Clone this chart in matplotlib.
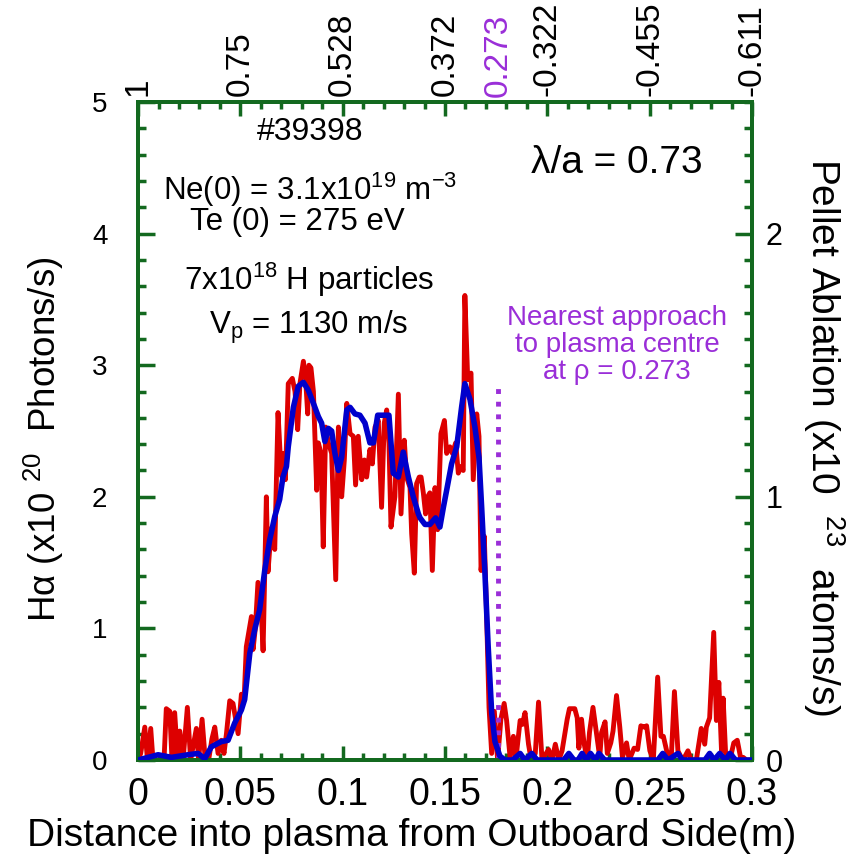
import matplotlib
matplotlib.use('Agg')
import matplotlib.pyplot as plt
from matplotlib.ticker import MultipleLocator

plt.rcParams['font.family'] = ['Liberation Sans', 'DejaVu Sans']
plt.rcParams['mathtext.fontset'] = 'custom'
plt.rcParams['mathtext.rm'] = 'Liberation Sans'
plt.rcParams['mathtext.it'] = 'Liberation Sans'
plt.rcParams['mathtext.default'] = 'regular'

# H-alpha signal (x1e20 photons/s) vs distance (m)
red_x = [0.0, 0.0013, 0.0033, 0.0046, 0.0062, 0.0073, 0.0098, 0.0127, 0.0138, 0.0155,
         0.0166, 0.0179, 0.0192, 0.0204, 0.022, 0.0241, 0.0257, 0.0285, 0.0296, 0.0313,
         0.0326, 0.0345, 0.0361, 0.0375, 0.0391, 0.0407, 0.042, 0.0432, 0.0448, 0.0464,
         0.0489, 0.0505, 0.0518, 0.0529, 0.0554, 0.0562, 0.0573, 0.0586, 0.0603, 0.0611,
         0.0627, 0.0635, 0.0651, 0.0668, 0.0684, 0.070, 0.0708, 0.0720,
         0.0734, 0.0754, 0.0767, 0.0780, 0.0791, 0.0808, 0.0819, 0.0829, 0.0835, 0.0845,
         0.0857, 0.0873, 0.0881, 0.0894, 0.0905, 0.0917, 0.0930, 0.0946, 0.0966, 0.0979,
         0.0995, 0.1008, 0.1020, 0.1036, 0.1052, 0.1063, 0.1076, 0.1093, 0.1106, 0.1117,
         0.1133, 0.1145, 0.1158, 0.1174, 0.1190, 0.1203, 0.1215, 0.1226, 0.1236, 0.1255,
         0.1272, 0.1285, 0.1301, 0.1312, 0.1329, 0.1337, 0.1350, 0.1361, 0.1374,
         0.1383, 0.1394, 0.1405, 0.1415, 0.1426, 0.1438, 0.1451, 0.1464, 0.1480, 0.1497,
         0.1508, 0.1524, 0.1536, 0.1552, 0.1565, 0.1578, 0.1589, 0.1597, 0.1611, 0.1627,
         0.1638, 0.1655, 0.1666, 0.1676, 0.1692, 0.1703, 0.1715, 0.1728, 0.1741, 0.1757,
         0.1773, 0.1789, 0.1801, 0.1818, 0.1834, 0.1846, 0.1867, 0.1878, 0.1891, 0.1908,
         0.1921, 0.1941, 0.1957, 0.1974, 0.2006, 0.2023, 0.2039, 0.2056, 0.2072, 0.2097,
         0.2108, 0.2134, 0.2146, 0.2154, 0.2167, 0.2179, 0.2195, 0.2206, 0.2223, 0.2236,
         0.2256, 0.2265, 0.2282, 0.2293, 0.2310, 0.2321, 0.2338, 0.2354, 0.2367, 0.2387,
         0.2400, 0.2424, 0.2441, 0.2457, 0.2474, 0.2485, 0.2501, 0.2518, 0.2539, 0.2555,
         0.2567, 0.2583, 0.2605, 0.2621, 0.2638, 0.2654, 0.2670, 0.2687, 0.2703, 0.2728,
         0.2752, 0.2769, 0.2777, 0.2793, 0.2813, 0.2826, 0.2838, 0.2851, 0.2859, 0.2872,
         0.2892, 0.2911, 0.2928, 0.2944, 0.2957, 0.2973, 0.3]
red_y = [0.0, 0.05, 0.25, 0.0, 0.24, 0.0, 0.0, 0.0, 0.39, 0.37,
         0.0, 0.36, 0.05, 0.22, 0.0, 0.40, 0.0, 0.24, 0.0, 0.31,
         0.05, 0.0, 0.16, 0.25, 0.05, 0.15, 0.05, 0.2, 0.45, 0.43,
         0.2, 0.5, 0.45, 0.86, 1.09, 0.84, 1.0, 1.35, 1.1, 0.83,
         2.0, 1.43, 1.76, 1.6, 2.64, 2.16, 2.33, 2.13,
         2.86, 2.9, 2.8, 2.51, 2.86, 3.03, 2.89, 2.63, 3.0, 2.98,
         2.8, 2.05, 2.41, 2.33, 1.62, 2.53, 2.41, 2.33, 1.37, 2.53,
         2.0, 2.28, 2.71, 2.48, 2.46, 2.09, 2.46, 2.13, 2.28, 2.15,
         2.36, 2.25, 2.53, 2.58, 1.92, 2.56, 2.66, 2.41, 1.77, 2.0,
         2.78, 1.87, 2.43, 2.15, 2.07, 1.72, 1.42, 2.1, 2.15,
         2.15, 2.03, 1.87, 2.0, 2.03, 1.44, 2.07, 1.75, 2.48, 2.58,
         2.33, 2.38, 2.33, 2.41, 2.18, 2.23, 2.2, 3.53, 2.89, 2.94,
         2.13, 2.63, 2.46, 1.44, 1.7, 1.11, 0.40, 0.05, 0.37, 0.0,
         0.31, 0.43, 0.3, 0.02, 0.18, 0.0, 0.3, 0.27, 0.36, 0.12,
         0.0, 0.05, 0.44, 0.0, 0.08, 0.0, 0.12, 0.0, 0.07, 0.31,
         0.39, 0.39, 0.32, 0.09, 0.31, 0.13, 0.0, 0.21, 0.4, 0.25,
         0.02, 0.21, 0.29, 0.05, 0.13, 0.22, 0.49, 0.25, 0.02, 0.13,
         0.0, 0.09, 0.08, 0.26, 0.25, 0.26, 0.07, 0.0, 0.63, 0.18,
         0.18, 0.07, 0.0, 0.52, 0.07, 0.02, 0.02, 0.07, 0.0, 0.0,
         0.24, 0.12, 0.25, 0.32, 0.97, 0.30, 0.59, 0.07, 0.47, 0.02,
         0.0, 0.13, 0.15, 0.02, 0.02, 0.0, 0.0]

# pellet ablation (x1e23 atoms/s) vs distance (m)
blue_x = [0.0, 0.0098, 0.0163, 0.0244, 0.0293, 0.0326, 0.0358, 0.0407, 0.0440, 0.0472,
          0.0505, 0.0521, 0.0546, 0.0570, 0.0594, 0.0619, 0.0643, 0.0668, 0.0692, 0.0708,
          0.0725, 0.0734, 0.0759, 0.0783, 0.0808, 0.0832, 0.0857, 0.0881, 0.0897, 0.0913,
          0.0930, 0.0946, 0.0962, 0.0979, 0.0995, 0.1020, 0.1036, 0.1060, 0.1084, 0.1109,
          0.1133, 0.1150, 0.1171, 0.1199, 0.1226, 0.1247, 0.1272, 0.1296, 0.1321, 0.1345,
          0.1370, 0.1378, 0.1402, 0.1426, 0.1454, 0.1475, 0.1492, 0.1508, 0.1532, 0.1557,
          0.1581, 0.1597, 0.1622, 0.1646, 0.1666, 0.1679, 0.1695, 0.1711, 0.1728, 0.1744,
          0.1768, 0.1793, 0.183, 0.1867, 0.189, 0.1924, 0.195, 0.208, 0.2105, 0.213,
          0.215, 0.217, 0.219, 0.2211, 0.2235, 0.2252, 0.228, 0.254, 0.2564, 0.259,
          0.2638, 0.266, 0.277, 0.2793, 0.2815, 0.2842, 0.287, 0.2892, 0.292, 0.3]
blue_y = [0.0, 0.02, 0.01, 0.02, 0.025, 0.005, 0.05, 0.07, 0.075, 0.14,
          0.19, 0.23, 0.405, 0.495, 0.57, 0.72, 0.835, 0.925, 0.99, 1.075,
          1.115, 1.19, 1.34, 1.42, 1.435, 1.405, 1.355, 1.305, 1.28, 1.21,
          1.26, 1.25, 1.165, 1.10, 1.15, 1.33, 1.34, 1.315, 1.31, 1.28,
          1.205, 1.205, 1.31, 1.31, 1.31, 1.09, 1.075, 1.17, 1.075, 1.0,
          0.935, 0.92, 0.895, 0.895, 0.92, 0.885, 0.96, 1.025, 1.125, 1.19,
          1.34, 1.43, 1.37, 1.265, 1.15, 0.96, 0.71, 0.43, 0.18, 0.07,
          0.015, 0.0, 0.0, 0.025, 0.0, 0.025, 0.0, 0.0, 0.025, 0.0,
          0.0, 0.025, 0.0, 0.025, 0.0, 0.025, 0.0, 0.0, 0.025, 0.0,
          0.025, 0.0, 0.0, 0.025, 0.0, 0.025, 0.0, 0.025, 0.0, 0.0]

# normalised radius rho along the top axis
top_ticks = [0.0, 0.05, 0.1, 0.15, 0.2, 0.25, 0.3]
top_labels = ['1', '0.75', '0.528', '0.372', '-0.322', '-0.455', '-0.611']
nearest_x = 0.176
nearest_rho = '0.273'

green = '#13691f'
purple = '#9a2ed8'

fig = plt.figure(figsize=(8.5, 8.55), dpi=100)
ax = fig.add_axes([0.1624, 0.1111, 0.7223, 0.7696])
ax2 = ax.twinx()

ax.plot(red_x, red_y, color='#dd0000', lw=3.5, zorder=2)
ax.plot([nearest_x, nearest_x], [0, 2.85], color=purple, lw=3.5,
        linestyle=(0, (1, 1.6)), zorder=3)
ax2.plot(blue_x, blue_y, color='#0000cc', lw=4, zorder=4)

ax.set_xlim(0, 0.3)
ax.set_ylim(0, 5)
ax2.set_ylim(0, 2.5)

ax.xaxis.set_major_locator(MultipleLocator(0.05))
ax.xaxis.set_minor_locator(MultipleLocator(0.01))
ax.yaxis.set_major_locator(MultipleLocator(1))
ax.yaxis.set_minor_locator(MultipleLocator(0.2))
ax2.yaxis.set_major_locator(MultipleLocator(1))
ax2.yaxis.set_minor_locator(MultipleLocator(0.1))
ax.set_xticks([0, 0.05, 0.1, 0.15, 0.2, 0.25, 0.3])
ax.set_xticklabels(['0', '0.05', '0.1', '0.15', '0.2', '0.25', '0.3'])

for a in [ax, ax2]:
    for s in a.spines.values():
        s.set_color(green)
        s.set_linewidth(2.8)
ax.tick_params(axis='x', which='both', direction='in', color=green, width=2.5,
               top=True, bottom=True, labelsize=27, pad=12)
ax.tick_params(axis='x', which='major', length=10)
ax.tick_params(axis='x', which='minor', length=5)
ax.tick_params(axis='y', which='both', direction='in', color=green, width=2.5, labelsize=20, pad=22)
ax.tick_params(axis='y', which='major', length=12)
ax.tick_params(axis='y', which='minor', length=6)
ax2.tick_params(axis='y', which='both', direction='in', color=green, width=2.5, labelsize=22, pad=10)
ax2.tick_params(axis='y', which='major', length=12)
ax2.tick_params(axis='y', which='minor', length=6)

top = ax.secondary_xaxis('top')
top.set_xticks(top_ticks)
top.set_xticklabels(top_labels, rotation=90)
top.tick_params(length=0, labelsize=24, pad=4)
top.spines['top'].set_visible(False)
ax.text(nearest_x, 1.008, nearest_rho, transform=ax.get_xaxis_transform(),
        rotation=90, ha='center', va='bottom', color=purple, fontsize=24)

ax.set_xlabel('Distance into plasma from Outboard Side(m)', fontsize=28)
ax.xaxis.set_label_coords(0.446, -0.088)
ax.set_ylabel('H\u03b1 (x10 $^{20}$  Photons/s)', fontsize=26.5)
ax.yaxis.set_label_coords(-0.118, 0.488)
ax2.set_ylabel('Pellet Ablation (x10  $^{23}$  atoms/s)', fontsize=28, rotation=270)
ax2.yaxis.set_label_coords(1.155, 0.49)

ax.text(0.084, 4.77, '#39398', ha='center', va='center', fontsize=23)
ax.text(0.084, 4.33, 'Ne(0) = 3.1x10$^{19}$ m$^{-3}$', ha='center', va='center', fontsize=22.5)
ax.text(0.078, 4.09, 'Te (0) = 275 eV', ha='center', va='center', fontsize=22.5)
ax.text(0.0835, 3.65, '7x10$^{18}$ H particles', ha='center', va='center', fontsize=22.5)
ax.text(0.0835, 3.29, 'V$_{p}$ = 1130 m/s', ha='center', va='center', fontsize=22.5)
ax.text(0.234, 4.54, '\u03bb/a = 0.73', ha='center', va='center', fontsize=28)
ax.text(0.234, 3.15, 'Nearest approach\nto plasma centre\nat \u03c1 = 0.273', ha='center',
        va='center', fontsize=20, color=purple, linespacing=1.05)

plt.savefig('out.png', dpi=100)
